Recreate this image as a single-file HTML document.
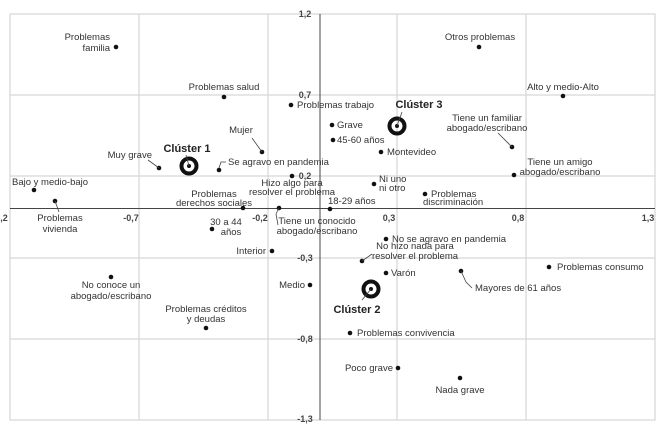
<!DOCTYPE html>
<html><head><meta charset="utf-8"><style>
html,body{margin:0;padding:0;background:#fff;}
svg{display:block;}
text{font-family:"Liberation Sans Narrow","Liberation Sans",sans-serif;font-size:9.5px;fill:#333;}
.b{font-weight:bold;font-size:11px;fill:#222;}
.ax{font-weight:bold;font-size:9px;fill:#444;}
</style></head><body>
<svg width="665" height="428" viewBox="0 0 665 428" xmlns="http://www.w3.org/2000/svg">
<g stroke="#d6d6d6" stroke-width="1.2" fill="none">
<rect x="10" y="14" width="645" height="406"/>
<line x1="139" y1="14" x2="139" y2="420"/><line x1="268" y1="14" x2="268" y2="420"/>
<line x1="397" y1="14" x2="397" y2="420"/><line x1="526" y1="14" x2="526" y2="420"/>
<line x1="10" y1="95" x2="655" y2="95"/><line x1="10" y1="176" x2="655" y2="176"/>
<line x1="10" y1="258" x2="655" y2="258"/><line x1="10" y1="339" x2="655" y2="339"/>
</g>
<g stroke="#444" stroke-width="1">
<line x1="320" y1="14" x2="320" y2="420"/><line x1="10" y1="208.5" x2="655" y2="208.5"/>
</g>
<g class="ax">
<text x="305" y="17" class="ax" text-anchor="middle">1,2</text>
<text x="305" y="98" class="ax" text-anchor="middle">0,7</text>
<text x="305" y="179" class="ax" text-anchor="middle">0,2</text>
<text x="305" y="261" class="ax" text-anchor="middle">-0,3</text>
<text x="305" y="342" class="ax" text-anchor="middle">-0,8</text>
<text x="305" y="422" class="ax" text-anchor="middle">-1,3</text>
<text x="0" y="221" class="ax" text-anchor="middle">-1,2</text>
<text x="131" y="221" class="ax" text-anchor="middle">-0,7</text>
<text x="260" y="221" class="ax" text-anchor="middle">-0,2</text>
<text x="389" y="221" class="ax" text-anchor="middle">0,3</text>
<text x="518" y="221" class="ax" text-anchor="middle">0,8</text>
<text x="648" y="221" class="ax" text-anchor="middle">1,3</text>
</g>
<g fill="#111">
<circle cx="116" cy="47" r="2.3"/><circle cx="224" cy="97" r="2.3"/><circle cx="291" cy="105" r="2.3"/>
<circle cx="332" cy="125" r="2.3"/><circle cx="333" cy="140" r="2.3"/><circle cx="381" cy="152" r="2.3"/>
<circle cx="479" cy="47" r="2.3"/><circle cx="563" cy="96" r="2.3"/><circle cx="512" cy="147" r="2.3"/>
<circle cx="514" cy="175" r="2.3"/><circle cx="374" cy="184" r="2.3"/><circle cx="425" cy="194" r="2.3"/>
<circle cx="330" cy="209" r="2.3"/><circle cx="292" cy="176" r="2.3"/><circle cx="279" cy="208" r="2.3"/>
<circle cx="262" cy="152" r="2.3"/><circle cx="219" cy="170" r="2.3"/><circle cx="159" cy="168" r="2.3"/>
<circle cx="34" cy="190" r="2.3"/><circle cx="55" cy="201" r="2.3"/><circle cx="243" cy="208" r="2.3"/>
<circle cx="212" cy="229" r="2.3"/><circle cx="272" cy="251" r="2.3"/><circle cx="386" cy="239" r="2.3"/>
<circle cx="362" cy="261" r="2.3"/><circle cx="386" cy="273" r="2.3"/><circle cx="461" cy="271" r="2.3"/>
<circle cx="549" cy="267" r="2.3"/><circle cx="310" cy="285" r="2.3"/><circle cx="111" cy="277" r="2.3"/>
<circle cx="206" cy="328" r="2.3"/><circle cx="350" cy="333" r="2.3"/><circle cx="398" cy="368" r="2.3"/>
<circle cx="460" cy="378" r="2.3"/>
<circle cx="189" cy="166" r="2"/><circle cx="397" cy="126" r="2"/><circle cx="371" cy="289" r="2"/>
</g>
<g fill="none" stroke="#111" stroke-width="4">
<circle cx="189" cy="166" r="7.5"/><circle cx="397" cy="126" r="7.5"/><circle cx="371" cy="289" r="7.5"/>
</g>
<g stroke="#444" stroke-width="0.8" fill="none">
<line x1="498" y1="133" x2="512" y2="147"/>
<line x1="252" y1="138" x2="262" y2="152"/>
<line x1="148" y1="160" x2="159" y2="168"/>
<polyline points="219,168 221,162 226,162"/>
<line x1="55" y1="201" x2="59" y2="212"/>
<polyline points="279,208 276,214 278,225"/>
<line x1="362" y1="261" x2="372" y2="254"/>
<polyline points="461,271 466,282 472,288"/>
<line x1="371" y1="289" x2="362" y2="300"/>
<line x1="397" y1="126" x2="402" y2="112"/>
<line x1="189" y1="166" x2="186" y2="155"/>
</g>
<g>
<text x="110" y="40" text-anchor="end">Problemas</text><text x="110" y="51" text-anchor="end">familia</text>
<text x="224" y="90" text-anchor="middle">Problemas salud</text>
<text x="297" y="108">Problemas trabajo</text>
<text x="337" y="128">Grave</text>
<text x="337" y="143">45-60 años</text>
<text x="387" y="155">Montevideo</text>
<text x="480" y="40" text-anchor="middle">Otros problemas</text>
<text x="563" y="90" text-anchor="middle">Alto y medio-Alto</text>
<text x="487" y="121" text-anchor="middle">Tiene un familiar</text><text x="487" y="131" text-anchor="middle">abogado/escribano</text>
<text x="560" y="165" text-anchor="middle">Tiene un amigo</text><text x="560" y="175" text-anchor="middle">abogado/escribano</text>
<text x="379" y="182">Ni uno</text><text x="379" y="191">ni otro</text>
<text x="431" y="197">Problemas</text><text x="423" y="205">discriminación</text>
<text x="328" y="204">18-29 años</text>
<text x="292" y="186" text-anchor="middle">Hizo algo para</text><text x="292" y="195" text-anchor="middle">resolver el problema</text>
<text x="241" y="133" text-anchor="middle">Mujer</text>
<text x="228" y="165">Se agravo en pandemia</text>
<text x="152" y="158" text-anchor="end">Muy grave</text>
<text x="12" y="185">Bajo y medio-bajo</text>
<text x="60" y="221" text-anchor="middle">Problemas</text><text x="60" y="232" text-anchor="middle">vivienda</text>
<text x="214" y="197" text-anchor="middle">Problemas</text><text x="214" y="206" text-anchor="middle">derechos sociales</text>
<text x="226" y="225" text-anchor="middle">30 a 44</text><text x="231" y="235" text-anchor="middle">años</text>
<text x="317" y="224" text-anchor="middle">Tiene un conocido</text><text x="317" y="234" text-anchor="middle">abogado/escribano</text>
<text x="266" y="254" text-anchor="end">Interior</text>
<text x="392" y="242">No se agravo en pandemia</text>
<text x="415" y="249" text-anchor="middle">No hizo nada para</text><text x="415" y="259" text-anchor="middle">resolver el problema</text>
<text x="391" y="276">Varón</text>
<text x="475" y="291">Mayores de 61 años</text>
<text x="557" y="270">Problemas consumo</text>
<text x="305" y="288" text-anchor="end">Medio</text>
<text x="111" y="288" text-anchor="middle">No conoce un</text><text x="111" y="299" text-anchor="middle">abogado/escribano</text>
<text x="206" y="312" text-anchor="middle">Problemas créditos</text><text x="206" y="322" text-anchor="middle">y deudas</text>
<text x="357" y="336">Problemas convivencia</text>
<text x="393" y="371" text-anchor="end">Poco grave</text>
<text x="460" y="393" text-anchor="middle">Nada grave</text>
<text x="187" y="152" class="b" text-anchor="middle">Clúster 1</text>
<text x="419" y="108" class="b" text-anchor="middle">Clúster 3</text>
<text x="357" y="313" class="b" text-anchor="middle">Clúster 2</text>
</g>
</svg>
</body></html>
